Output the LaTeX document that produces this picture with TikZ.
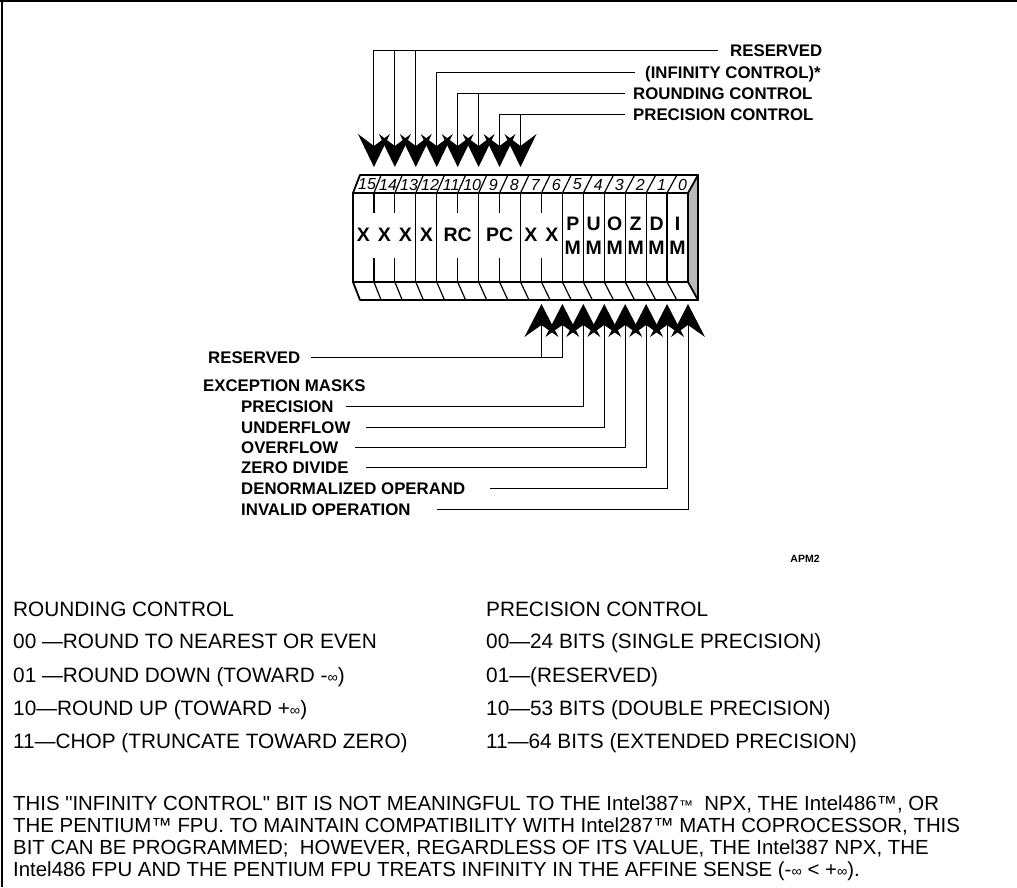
\documentclass[tikz,border=0pt]{standalone}
\usepackage{fontspec}
\setmainfont{Liberation Sans}[Ligatures=TeXOff]
\usetikzlibrary{calc}
\newcommand\infy{{\fontsize{14.5}{14.5}\selectfont ∞}}
\begin{document}
\begin{tikzpicture}[x=1pt,y=-1pt,
  lbl/.style={font=\fontsize{16.8}{18}\selectfont\bfseries, inner sep=0pt, anchor=west, text height=12pt, text depth=0pt},
  reg/.style={font=\fontsize{19.5}{19.5}\selectfont\bfseries, inner sep=0pt},
  num/.style={font=\fontsize{16}{16}\selectfont\itshape, inner sep=0pt},
  body/.style={font=\fontsize{20.8}{22}\selectfont, inner sep=0pt, anchor=west, text height=15pt, text depth=0pt},
  foot/.style={font=\fontsize{20.4}{22}\selectfont, inner sep=0pt, anchor=west, text height=14.6pt, text depth=0pt},
  lead/.style={line width=1pt},
  boxline/.style={line width=1.8pt, line join=round},
  divline/.style={line width=1.2pt},
]
\useasboundingbox (0,0) rectangle (1017,887);
% frame
\draw[line width=1.2pt] (0,1) -- (1017,1);
\draw[line width=1.2pt] (2,0) -- (2,887);

% register box
\def\w{20.9375}
\def\wt{21.125}
\fill[gray!55] (688,193) -- (698,175) -- (698,300) -- (688,282) -- cycle;
\foreach \k in {1,...,15} {
  \draw[divline] (353+\k*\w,193) -- (360+\k*\wt,175);
  \draw[divline] (353+\k*\w,282) -- (360+\k*\wt,300);
}
\foreach \k in {3,4,6,8,10,11,12,13,14,15} {
  \draw[divline] (353+\k*\w,193) -- (353+\k*\w,282);
}
\foreach \k in {1,2,5,7,9} {
  \draw[divline] (353+\k*\w,193) -- (353+\k*\w,213);
  \draw[divline] (353+\k*\w,258) -- (353+\k*\w,282);
}
\draw[boxline] (353,193) rectangle (688,282);
\draw[boxline] (353,193) -- (360,175) -- (698,175) -- (688,193);
\draw[boxline] (353,282) -- (360,300) -- (698,300) -- (688,282);
\draw[boxline] (698,175) -- (698,300);

% bit numbers
\foreach \k in {0,...,15} {
  \pgfmathtruncatemacro\bit{15-\k}
  \node[num] (num\k) at ({(353+(\k+0.5)*\w + 360+(\k+0.5)*\wt)/2},184.5) {\bit};
}
% register fields
\foreach \k in {0,1,2,3,8,9} {
  \node[reg] (fx\k) at (353+\k*\w+\w/2,235) {X};
}
\node[reg] (frc) at (353+5*\w,235) {RC};
\node[reg] (fpc) at (353+7*\w,235) {PC};
\foreach \k/\l in {10/P,11/U,12/O,13/Z,14/D,15/I} {
  \node[reg] (fa\k) at (353+\k*\w+\w/2,223.5) {\l};
  \node[reg] (fm\k) at (353+\k*\w+\w/2,248) {M};
}

% top arrowheads
\foreach \k in {1,...,8} {
  \coordinate (t\k) at (353+\k*\w,146);
  \fill (353+\k*\w,167) -- (353+\k*\w-16,134) -- (353+\k*\w,146) -- (353+\k*\w+16,134) -- cycle;
}
% bottom arrowheads
\foreach \k in {9,...,16} {
  \coordinate (b\k) at (353+\k*\w,325);
  \fill (353+\k*\w,304) -- (353+\k*\w-17,337) -- (353+\k*\w,325) -- (353+\k*\w+17,337) -- cycle;
}

% top labels
\node[lbl] (lres) at (730,50) {RESERVED};
\node[lbl] (linf) at (645,72) {(INFINITY CONTROL)*};
\node[lbl] (lrc) at (633,93) {ROUNDING CONTROL};
\node[lbl] (lpc) at (633,114) {PRECISION CONTROL};
\draw[lead] (t1) |- ([xshift=-12pt]lres.west);
\draw[lead] (t2) -- (t2 |- lres.west);
\draw[lead] (t3) -- (t3 |- lres.west);
\draw[lead] (t4) |- ([xshift=-10pt]linf.west);
\draw[lead] (t5) |- ([xshift=-8pt]lrc.west);
\draw[lead] (t6) -- (t6 |- lrc.west);
\draw[lead] (t7) |- ([xshift=-8pt]lpc.west);
\draw[lead] (t8) -- (t8 |- lpc.west);

% bottom labels
\node[lbl] (bres) at (208,357) {RESERVED};
\node[lbl] (bexc) at (203,385) {EXCEPTION MASKS};
\node[lbl] (bpre) at (241,406) {PRECISION};
\node[lbl] (bund) at (241,427) {UNDERFLOW};
\node[lbl] (bovf) at (241,447) {OVERFLOW};
\node[lbl] (bzer) at (241,467) {ZERO DIVIDE};
\node[lbl] (bden) at (241,488) {DENORMALIZED OPERAND};
\node[lbl] (binv) at (241,509) {INVALID OPERATION};
\draw[lead] (b10) |- ([xshift=10pt]bres.east);
\draw[lead] (b9) -- (b9 |- bres.east);
\draw[lead] (b11) |- ([xshift=12pt]bpre.east);
\draw[lead] (b12) |- ([xshift=15pt]bund.east);
\draw[lead] (b13) |- ([xshift=17pt]bovf.east);
\draw[lead] (b14) |- ([xshift=17pt]bzer.east);
\draw[lead] (b15) |- ([xshift=25pt]bden.east);
\draw[lead] (b16) |- ([xshift=26pt]binv.east);

\node[font=\fontsize{10.5}{11}\selectfont\bfseries, inner sep=0pt] (apm) at (805,559) {APM2};

% tables
\node[body] (rch) at (13,609) {ROUNDING CONTROL};
\node[body] (r00) at (13,641) {00 —ROUND TO NEAREST OR EVEN};
\node[body] (r01) at (13,675) {01 —ROUND DOWN (TOWARD -\infy)};
\node[body] (r10) at (13,708) {10—ROUND UP (TOWARD +\infy)};
\node[body] (r11) at (13,741) {11—CHOP (TRUNCATE TOWARD ZERO)};
\node[body] (pch) at (486,609) {PRECISION CONTROL};
\node[body] (p00) at (486,641) {00—24 BITS (SINGLE PRECISION)};
\node[body] (p01) at (486,675) {01—(RESERVED)};
\node[body] (p10) at (486,708) {10—53 BITS (DOUBLE PRECISION)};
\node[body] (p11) at (486,741) {11—64 BITS (EXTENDED PRECISION)};

% footnote
\node[foot] (f1) at (13,803) {THIS "INFINITY CONTROL" BIT IS NOT MEANINGFUL TO THE Intel387{\fontsize{14}{14}\selectfont ™}\ \ NPX, THE Intel486™, OR};
\node[foot] (f2) at (13,825) {THE PENTIUM™ FPU. TO MAINTAIN COMPATIBILITY WITH Intel287™ MATH COPROCESSOR, THIS};
\node[foot] (f3) at (13,847) {BIT CAN BE PROGRAMMED;\ \ HOWEVER, REGARDLESS OF ITS VALUE, THE Intel387 NPX, THE};
\node[foot] (f4) at (13,869) {Intel486 FPU AND THE PENTIUM FPU TREATS INFINITY IN THE AFFINE SENSE (-\infy{} < +\infy).};
\end{tikzpicture}
\end{document}
